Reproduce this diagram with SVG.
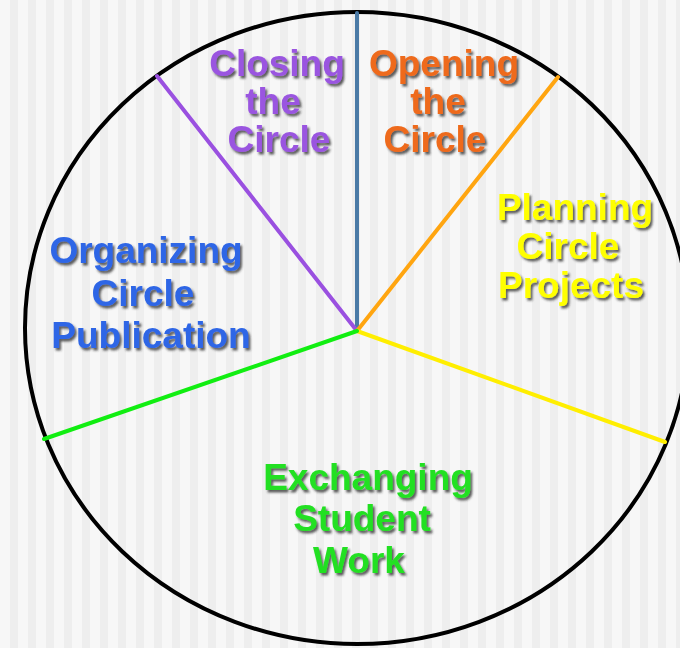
<svg xmlns="http://www.w3.org/2000/svg" width="680" height="648" viewBox="0 0 680 648">
  <defs>
    <pattern id="stripes" x="0" y="0" width="18" height="648" patternUnits="userSpaceOnUse">
      <rect x="0" y="0" width="18" height="648" fill="#f7f7f7"/>
      <rect x="10" y="0" width="8" height="648" fill="#eeeeee"/>
    </pattern>
    <filter id="shadow" x="-10%" y="-20%" width="130%" height="150%">
      <feDropShadow dx="2" dy="2.5" stdDeviation="1.3" flood-color="#2a2a2a" flood-opacity="0.75"/>
    </filter>
  </defs>
  <style>
    .lbl { font-family: "Liberation Sans", Arial, sans-serif; font-weight: bold; font-size: 37px; text-anchor: middle; filter: url(#shadow); }
    .spoke { stroke-width: 4; stroke-linecap: round; fill: none; }
  </style>
  <rect x="0" y="0" width="680" height="648" fill="url(#stripes)"/>
  <g id="circle">
    <ellipse cx="357" cy="328" rx="332" ry="316" fill="none" stroke="#000" stroke-width="4"/>
  </g>
  <g id="connectors">
    <line class="spoke" x1="357" y1="331" x2="357" y2="13" stroke="#4a7aa6"/>
    <line class="spoke" x1="357" y1="331" x2="157" y2="76" stroke="#9a50e0"/>
    <line class="spoke" x1="357" y1="331" x2="558" y2="77" stroke="#ffa510"/>
    <line class="spoke" x1="357" y1="331" x2="665" y2="442" stroke="#ffee00"/>
    <line class="spoke" x1="357" y1="331" x2="44" y2="439" stroke="#11ee11"/>
  </g>
  <g id="closing">
    <text class="lbl" fill="#9a55e0" x="277" y="76">Closing</text>
    <text class="lbl" fill="#9a55e0" x="273" y="114">the</text>
    <text class="lbl" fill="#9a55e0" x="279" y="152">Circle</text>
  </g>
  <g id="opening">
    <text class="lbl" fill="#ee6a1a" x="444" y="76">Opening</text>
    <text class="lbl" fill="#ee6a1a" x="438" y="114">the</text>
    <text class="lbl" fill="#ee6a1a" x="435" y="152">Circle</text>
  </g>
  <g id="planning">
    <text class="lbl" fill="#ffff00" x="575" y="220">Planning</text>
    <text class="lbl" fill="#ffff00" x="568" y="259">Circle</text>
    <text class="lbl" fill="#ffff00" x="571" y="298">Projects</text>
  </g>
  <g id="organizing">
    <text class="lbl" fill="#2e66e6" x="146" y="263">Organizing</text>
    <text class="lbl" fill="#2e66e6" x="143" y="306">Circle</text>
    <text class="lbl" fill="#2e66e6" x="151" y="348">Publication</text>
  </g>
  <g id="exchanging">
    <text class="lbl" fill="#22e022" x="368" y="490">Exchanging</text>
    <text class="lbl" fill="#22e022" x="362" y="531">Student</text>
    <text class="lbl" fill="#22e022" x="359" y="573">Work</text>
  </g>
</svg>
